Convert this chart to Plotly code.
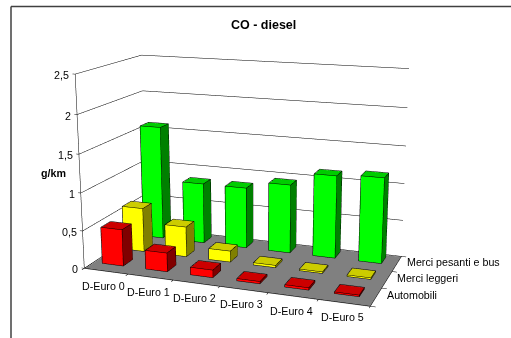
import numpy as np
import plotly.graph_objects as go

categories = ["D-Euro 0", "D-Euro 1", "D-Euro 2", "D-Euro 3", "D-Euro 4", "D-Euro 5"]
series_names = ["Automobili", "Merci leggeri", "Merci pesanti e bus"]
automobili = [0.49, 0.25, 0.10, 0.03, 0.03, 0.02]
merci_leggeri = [0.60, 0.41, 0.15, 0.03, 0.02, 0.02]
merci_pesanti = [1.58, 0.84, 0.84, 0.94, 1.12, 1.15]
z_ticks = [0, 0.5, 1, 1.5, 2, 2.5]
z_labels = ["0", "0,5", "1", "1,5", "2", "2,5"]

W, H = 511, 338
HV = 800                 # taller drawing area: gives the long lens the reference uses
TOP = HV / 2 - H / 2     # the page is shifted so that the window centre is the lens axis
XR, YR, ZR = (-0.2, 6.2), (-0.2, 3.2), (-0.1, 2.6)
F = (HV / 2) / np.tan(np.pi / 8)

# camera calibration against the plot frame
cal_pts = np.array([[0,0,0],[6,0,0],[6,3,0],[0,3,0],[0,0,2.5],[0,3,2.5],[6,3,2.5],[0,0,1.5],[6,3,1],
                    [0,0,2],[0,0,.5],[0,3,2],[6,3,2]],float)
cal_px = np.array([[84,267],[369,306],[403,254],[147,233],[75,76],[141,53],[410,70],[79,155],[403,183],
                   [78,115],[82,230],[142,88],[408,108]],float)

def cube(P, ax, ay, az=1.0):
    lo = np.array([XR[0], YR[0], ZR[0]]); hi = np.array([XR[1], YR[1], ZR[1]])
    return ((P - lo) / (hi - lo) - 0.5) * np.array([ax, ay, az])

def proj(p):
    eye, ctr, ax, ay = p[:3], p[3:6], p[6], p[7]
    f = ctr - eye; f = f / np.linalg.norm(f)
    s = np.cross(f, [0, 0, 1.0]); s = s / np.linalg.norm(s)
    u = np.cross(s, f)
    d = cube(cal_pts, ax, ay) - eye
    w = d @ f
    return np.c_[W / 2 + F * (d @ s) / w, H / 2 - F * (d @ u) / w]

def resid(p):
    return (proj(p) - cal_px).ravel()

k0 = F / 408
p = np.array([1.5 * k0, -2.5 * k0, 1.0 * k0, 0, 0, 0, 2.0, 0.8])
lam = 1e-2
r = resid(p); c = r @ r
for _ in range(600):
    J = np.zeros((r.size, p.size))
    for k in range(p.size):
        dp = np.zeros_like(p); dp[k] = 1e-5
        J[:, k] = (resid(p + dp) - r) / 1e-5
    step = np.linalg.solve(J.T @ J + lam * np.eye(p.size), -J.T @ r)
    r2 = resid(p + step); c2 = r2 @ r2
    if c2 < c:
        p, r, c = p + step, r2, c2; lam = max(lam * 0.5, 1e-8)
    else:
        lam *= 3
eye, ctr, ax, ay = p[:3], p[3:6], p[6], p[7]

HWX, HWY, CX, CY = 0.245, 0.22, 0.45, 0.62
colors = [("#ff0000", "#800000", "#cc0000"), ("#ffff00", "#808000", "#cccc00"), ("#00ff00", "#008000", "#00cc00")]
all_series = [automobili, merci_leggeri, merci_pesanti]
TRI = [(0,1,5),(0,5,4),(1,2,6),(1,6,5),(4,5,6),(4,6,7),(3,2,6),(3,6,7),(0,3,7),(0,7,4),(0,1,2),(0,2,3)]
SHADE = [0,0,1,1,2,2,0,0,1,1,2,2]
EDGES = [(0,1),(1,2),(2,3),(3,0),(4,5),(5,6),(6,7),(7,4),(0,4),(1,5),(2,6),(3,7)]
E = 0.004

fig = go.Figure()
lx, ly, lz = [], [], []
def seg(a, b):
    lx.extend([a[0], b[0], None]); ly.extend([a[1], b[1], None]); lz.extend([a[2], b[2], None])

def corners(x0, x1, y0, y1, z0, z1):
    return [(x0,y0,z0),(x1,y0,z0),(x1,y1,z0),(x0,y1,z0),(x0,y0,z1),(x1,y0,z1),(x1,y1,z1),(x0,y1,z1)]

FLAT = dict(ambient=1, diffuse=0, specular=0, roughness=1, fresnel=0)
for s, vals in enumerate(all_series):
    mx, my, mz, I, J_, K, fc = [], [], [], [], [], [], []
    for i, v in enumerate(vals):
        x0, x1, y0, y1 = i + CX - HWX, i + CX + HWX, s + CY - HWY, s + CY + HWY
        c_in = corners(x0 + E, x1 - E, y0 + E, y1 - E, 0, v - min(E, v * .2))
        c_out = corners(x0, x1, y0, y1, 0, v)
        n = len(mx)
        for q in c_in:
            mx.append(q[0]); my.append(q[1]); mz.append(q[2])
        for t, sh in zip(TRI, SHADE):
            I.append(t[0] + n); J_.append(t[1] + n); K.append(t[2] + n); fc.append(colors[s][sh])
        for a, b in EDGES:
            seg(c_out[a], c_out[b])
    fig.add_trace(go.Mesh3d(x=mx, y=my, z=mz, i=I, j=J_, k=K, facecolor=fc, flatshading=True,
                            name=series_names[s], hoverinfo="skip", lighting=FLAT))

nc, ns, top = len(categories), len(series_names), z_ticks[-1]
fig.add_trace(go.Mesh3d(x=[0, nc, nc, 0], y=[0, 0, ns, ns], z=[-0.006] * 4, i=[0, 0], j=[1, 2], k=[2, 3],
                        color="#808080", flatshading=True, hoverinfo="skip", lighting=FLAT))
for z in z_ticks:
    if z > 0:
        seg((0, 0, z), (0, ns, z)); seg((0, ns, z), (nc, ns, z))
    seg((-0.06, 0, z), (0, 0, z))
seg((0, 0, 0), (0, 0, top))
seg((0, 0, 0), (nc, 0, 0)); seg((nc, 0, 0), (nc, ns, 0)); seg((nc, ns, 0), (0, ns, 0)); seg((0, ns, 0), (0, 0, 0))
for i in range(nc + 1):
    seg((i, 0, 0), (i, -0.1, 0))
for s in range(ns + 1):
    seg((nc, s, 0), (nc + 0.1, s, 0))
fig.add_trace(go.Scatter3d(x=lx, y=ly, z=lz, mode="lines", line=dict(color="#000000", width=1), hoverinfo="skip"))

FONT = dict(family="Liberation Sans, Arial, sans-serif", size=10.7, color="#000000")
ann = []
for z, t in zip(z_ticks, z_labels):
    ann.append(dict(x=0, y=0, z=z, text=t, showarrow=False, xanchor="right", xshift=-4, yshift=-1, font=FONT))
for i, t in enumerate(categories):
    ann.append(dict(x=i + .5, y=0, z=0, text=t, showarrow=False, xanchor="center", xshift=-2, yshift=-14.5, font=FONT))
for s, t in enumerate(series_names):
    ann.append(dict(x=nc, y=s + .5, z=0, text=t, showarrow=False, xanchor="left", xshift=8.5, yshift=2, font=FONT))

def py(y_px):  # window pixel row to paper fraction
    return 1 - (y_px + TOP) / HV

hidden = dict(visible=False, showspikes=False)
fig.update_layout(
    width=W, height=HV, margin=dict(l=0, r=0, t=0, b=0), showlegend=False,
    paper_bgcolor="white", hovermode=False,
    scene=dict(
        domain=dict(x=[0, 1], y=[0, 1]), bgcolor="rgba(0,0,0,0)", aspectmode="manual",
        aspectratio=dict(x=float(ax), y=float(ay), z=1.0),
        camera=dict(eye=dict(x=float(eye[0]), y=float(eye[1]), z=float(eye[2])),
                    center=dict(x=float(ctr[0]), y=float(ctr[1]), z=float(ctr[2])),
                    up=dict(x=0, y=0, z=1), projection=dict(type="perspective")),
        xaxis=dict(range=list(XR), **hidden), yaxis=dict(range=list(YR), **hidden), zaxis=dict(range=list(ZR), **hidden),
        annotations=ann,
    ),
    shapes=[
        dict(type="line", xref="paper", yref="paper", x0=11/W, x1=1, y0=py(6.5), y1=py(6.5), line=dict(color="#404040", width=1.5)),
        dict(type="line", xref="paper", yref="paper", x0=11/W, x1=11/W, y0=py(345), y1=py(6.5), line=dict(color="#404040", width=1.5)),
    ],
    annotations=[
        dict(text="<b>CO - diesel</b>", xref="paper", yref="paper", x=263/W, y=py(25.5), yanchor="middle", showarrow=False,
             font=dict(family="Liberation Sans, Arial", size=12.5, color="#000")),
        dict(text="<b>g/km</b>", xref="paper", yref="paper", x=39/W, y=py(173), yanchor="middle", showarrow=False,
             font=dict(family="Liberation Sans, Arial", size=10.7, color="#000")),
    ],
)
post = ("document.body.style.margin='0';document.documentElement.style.overflow='hidden';"
        "document.body.style.overflow='hidden';var g=document.getElementById('{plot_id}');"
        f"g.style.position='relative';g.style.top='-{TOP}px';")
fig.write_html("out.html", config=dict(displayModeBar=False), post_script=post)
